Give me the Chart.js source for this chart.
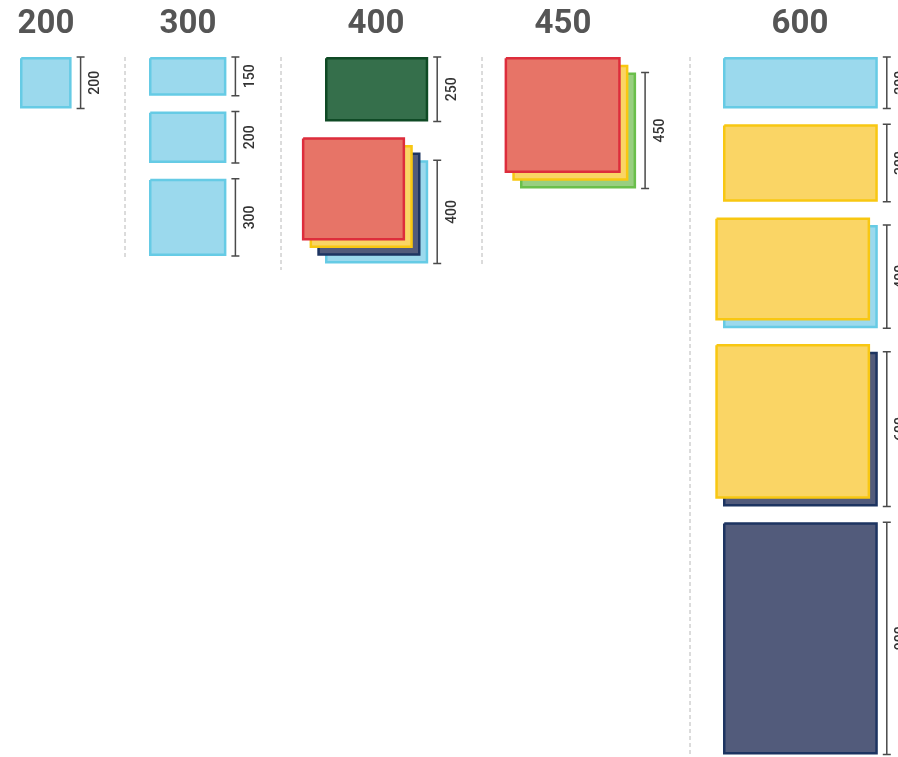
<!DOCTYPE html>
<html>
<head>
<meta charset="utf-8">
<script src="https://cdn.jsdelivr.net/npm/chart.js@4.4.1/dist/chart.umd.min.js"></script>
<style>
  html, body { margin: 0; background: #fff; }
  #wrap { width: 898px; height: 757px; position: relative; }
</style>
</head>
<body>
<div id="wrap"><canvas id="sizes"></canvas></div>
<script>
/* ─────────────────────────────────────────────
   Size chart — each block is width × height,
   stacked colour layers drawn back to front
───────────────────────────────────────────── */

// ── Data ─────────────────────────────────────
const WIDTHS = [200, 300, 400, 450, 600];

const HEIGHTS_200 = [200];
const HEIGHTS_300 = [150, 200, 300];
const HEIGHTS_400 = [250, 400];
const HEIGHTS_450 = [450];
const HEIGHTS_600 = [200, 300, 400, 600, 900];

// colour layers for each block, back first
const LAYERS_200 = [['blue']];
const LAYERS_300 = [['blue'], ['blue'], ['blue']];
const LAYERS_400 = [['darkGreen'], ['blue', 'navy', 'yellow', 'red']];
const LAYERS_450 = [['green', 'yellow', 'red']];
const LAYERS_600 = [['blue'], ['yellow'], ['blue', 'yellow'], ['navy', 'yellow'], ['navy']];

const HEIGHTS = [HEIGHTS_200, HEIGHTS_300, HEIGHTS_400, HEIGHTS_450, HEIGHTS_600];
const LAYERS  = [LAYERS_200, LAYERS_300, LAYERS_400, LAYERS_450, LAYERS_600];

// ── Styles ───────────────────────────────────
const COLORS = {
  blue:      { fill: '#9bd9ed', line: '#66cbe5' },
  darkGreen: { fill: '#356f4b', line: '#0f4a25' },
  red:       { fill: '#e77467', line: '#dd2d3c' },
  yellow:    { fill: '#fad565', line: '#f8c712' },
  navy:      { fill: '#525b7b', line: '#1d3461' },
  green:     { fill: '#98cf80', line: '#6abf4b' }
};

// ── Layout (pixels) ──────────────────────────
const PX       = 0.258;                 // pixels per size unit
const COL_LEFT = [20, 149, 325, 520, 723];
const TITLE_X  = [46, 188, 376, 563, 800];
const SEP_X    = [125, 281, 482, 690];
const SEP_END  = [260, 270, 265, 757];
const TOP = 57, GAP = 15.7, SHIFT = 7.7, TITLE_BASE = 33;
const BORDER = 2.5;

const u = p => p / PX;                  // pixels -> size units

// ── Build datasets ───────────────────────────
const datasets = [];
const dimLabels = [];
let layerNo = 0;

SEP_X.forEach((sx, i) => {
  datasets.push({
    data: [{ x: u(sx), y: u(TOP) }, { x: u(sx), y: u(SEP_END[i]) }],
    borderColor: '#b8b8b8',
    borderWidth: 1,
    borderDash: [4, 3],
    fill: false,
    order: 1000
  });
});

WIDTHS.forEach((w, c) => {
  let top = TOP;
  HEIGHTS[c].forEach((h, b) => {
    const layers = LAYERS[c][b];
    const n = layers.length;
    const backTop = top + (n - 1) * SHIFT;
    const ins = u(BORDER / 2);

    // back layer sits on the column, each next one steps up-left
    layers.forEach((name, j) => {
      const d  = j * SHIFT;
      const x0 = u(COL_LEFT[c] - d), y0 = u(backTop - d);
      const x1 = x0 + w, y1 = y0 + h;
      datasets.push({
        data: [
          { x: x0 + ins, y: y0 + ins }, { x: x1 - ins, y: y0 + ins },
          { x: x1 - ins, y: y1 - ins }, { x: x0 + ins, y: y1 - ins },
          { x: x0 + ins, y: y0 + ins }
        ],
        borderColor: COLORS[name].line,
        backgroundColor: COLORS[name].fill,
        borderWidth: BORDER,
        borderJoinStyle: 'miter',
        fill: 'shape',
        order: -(layerNo++)
      });
    });

    // dimension bracket beside the back layer
    const bx = u(COL_LEFT[c] + 9) + w;
    const cap = u(4);
    const y0 = u(backTop), y1 = y0 + h;
    datasets.push({
      data: [
        { x: bx - cap, y: y0 }, { x: bx + cap, y: y0 }, { x: bx, y: y0 },
        { x: bx, y: y1 }, { x: bx - cap, y: y1 }, { x: bx + cap, y: y1 }
      ],
      borderColor: '#4a4a4a',
      borderWidth: 1.5,
      fill: false,
      order: -(layerNo++)
    });
    dimLabels.push({ x: bx, y: (y0 + y1) / 2, text: String(h) });

    top = backTop + h * PX + GAP;
  });
});

// ── Titles + dimension text ──────────────────
const textPlugin = {
  id: 'sizeText',
  afterDatasetsDraw(chart) {
    const { ctx, scales: { x, y } } = chart;
    ctx.save();

    ctx.fillStyle = '#555';
    ctx.font = 'bold 33px Roboto';
    ctx.textAlign = 'center';
    ctx.textBaseline = 'alphabetic';
    WIDTHS.forEach((w, i) => {
      ctx.fillText(String(w), x.getPixelForValue(u(TITLE_X[i])), y.getPixelForValue(u(TITLE_BASE)));
    });

    ctx.fillStyle = '#333';
    ctx.font = '500 14px Roboto';
    dimLabels.forEach(l => {
      ctx.save();
      ctx.translate(x.getPixelForValue(l.x) + 18.5, y.getPixelForValue(l.y));
      ctx.rotate(-Math.PI / 2);
      ctx.fillText(l.text, 0, 0);
      ctx.restore();
    });

    ctx.restore();
  }
};

// ── Chart ────────────────────────────────────
Chart.defaults.font.family = 'Roboto';

new Chart(document.getElementById('sizes'), {
  type: 'line',
  data: { datasets },
  options: {
    responsive: true,
    maintainAspectRatio: false,
    animation: false,
    events: [],
    layout: { padding: 0 },
    elements: {
      point: { radius: 0 },
      line: { tension: 0 }
    },
    plugins: {
      legend: { display: false },
      tooltip: { enabled: false }
    },
    scales: {
      x: { type: 'linear', display: false, min: 0, max: u(898) },
      y: { type: 'linear', display: false, min: 0, max: u(757), reverse: true }
    }
  },
  plugins: [textPlugin]
});
</script>
</body>
</html>
